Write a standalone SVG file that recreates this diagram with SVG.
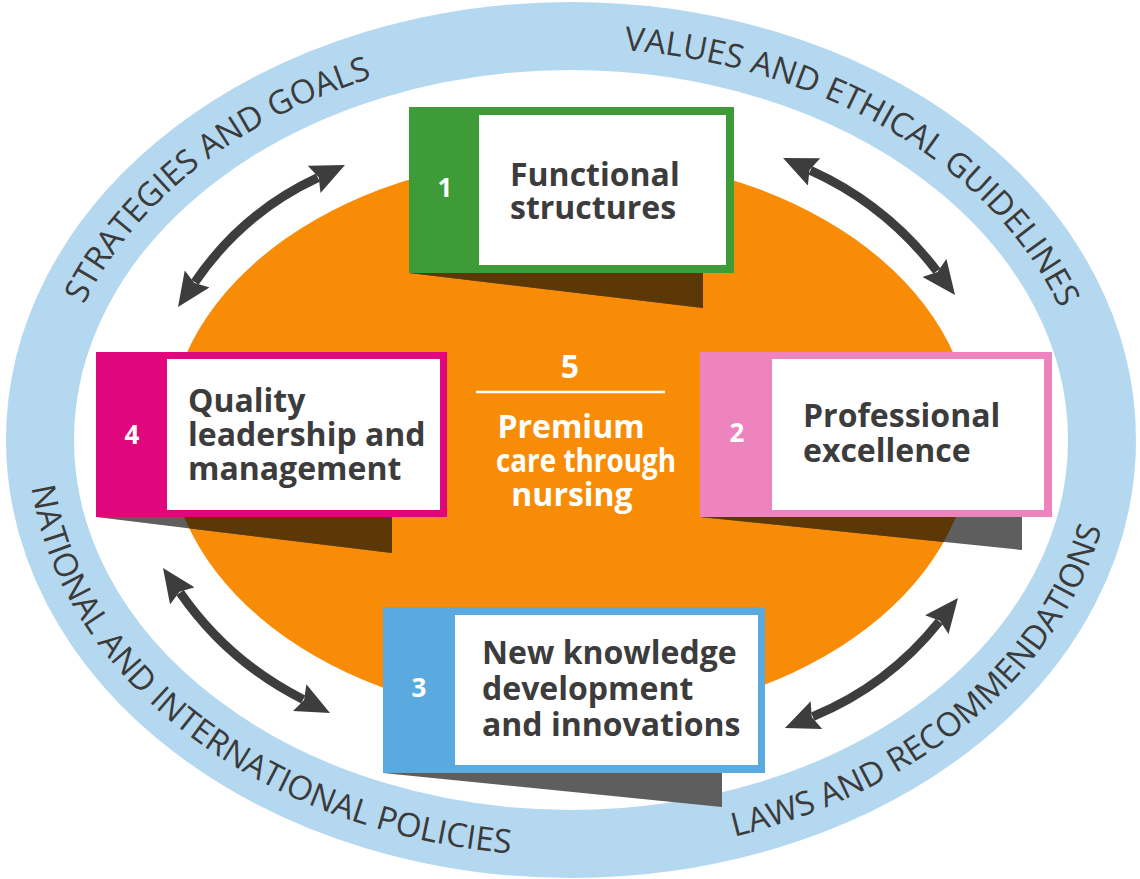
<svg xmlns="http://www.w3.org/2000/svg" width="1140" height="879" viewBox="0 0 1140 879">
<defs>
<style>
.ring{fill:none;stroke:#b4d8f0;stroke-width:68}
.orange{fill:#f98c06}
.ringtxt{font-family:"Open Sans","DejaVu Sans",sans-serif;font-size:33px;fill:#3b3b3b}
.arrow{fill:none;stroke:#3d3d3d;stroke-width:9;marker-start:url(#head);marker-end:url(#head)}
.sh{fill:#5e5e5e}
.shb{fill:#5c3806}
.inner{fill:#ffffff}
.num{font-family:"Open Sans","Liberation Sans",sans-serif;font-weight:700;font-size:26px;fill:#ffffff;text-anchor:middle}
.lbl{font-family:"Open Sans","DejaVu Sans",sans-serif;font-weight:700;font-size:32px;fill:#3c3c3c}
.ctr{font-family:"Open Sans","DejaVu Sans",sans-serif;font-weight:700;font-size:32px;fill:#ffffff;text-anchor:middle}
</style>
<marker id="head" markerUnits="userSpaceOnUse" markerWidth="34" markerHeight="30" viewBox="0 0 34 30" refX="4" refY="15" orient="auto-start-reverse">
<path d="M0,0 L34,15 L0,30 L5,15 z" fill="#3d3d3d"/>
</marker>
<clipPath id="oclip"><ellipse cx="570" cy="438" rx="402" ry="282"/></clipPath>
<path id="p1" d="M63.3,358.5 A519,392 0 0 1 427.9,63.2"/>
<path id="p2" d="M571,48 A519,392 0 0 1 1078.7,358.5"/>
<path id="p3" d="M28,440 A543,416 0 0 0 580.5,855.9"/>
<path id="p4" d="M618.3,854.4 A543,416 0 0 0 1114,440"/>
</defs>
<rect width="1140" height="879" fill="#ffffff"/>
<g id="frame">
<ellipse class="ring" cx="571" cy="440" rx="531" ry="404"/>
<text class="ringtxt"><textPath href="#p1" startOffset="50%" text-anchor="middle">STRATEGIES AND GOALS</textPath></text>
<text class="ringtxt"><textPath href="#p2" startOffset="50%" text-anchor="middle">VALUES AND ETHICAL GUIDELINES</textPath></text>
<text class="ringtxt"><textPath href="#p3" startOffset="48.5%" text-anchor="middle">NATIONAL AND INTERNATIONAL POLICIES</textPath></text>
<text class="ringtxt"><textPath href="#p4" startOffset="52%" text-anchor="middle">LAWS AND RECOMMENDATIONS</textPath></text>
</g>
<g id="core">
<ellipse class="orange" cx="570" cy="438" rx="402" ry="282"/>
<text class="ctr" x="570" y="378" font-size="27">5</text>
<line x1="476" y1="392" x2="665" y2="392" stroke="#ffffff" stroke-width="2.5"/>
<text class="ctr" x="571" y="438">Premium</text>
<text class="ctr" x="586" y="472" textLength="180" lengthAdjust="spacingAndGlyphs">care through</text>
<text class="ctr" x="572" y="506">nursing</text>
</g>
<g id="connectors">
<path class="arrow" d="M194.9,282.2 Q242,213 317.8,177.7"/>
<path class="arrow" d="M810.4,170.3 Q886.4,204.6 936.9,271.1"/>
<path class="arrow" d="M180.1,592.6 Q228.1,661.7 303.2,699.5"/>
<path class="arrow" d="M939.3,621.5 Q888.3,685.4 812.7,716.6"/>
</g>
<g id="box1">
<polygon class="sh" points="409,273 703,273 703,308"/>
<polygon class="shb" clip-path="url(#oclip)" points="409,273 703,273 703,308"/>
<rect x="409" y="107" width="325" height="166" fill="#3d9c37"/>
<rect class="inner" x="479" y="115" width="247" height="150"/>
<text class="num" x="445" y="197">1</text>
<text class="lbl" x="510" y="186">Functional</text>
<text class="lbl" x="510" y="219">structures</text>
</g>
<g id="box2">
<polygon class="sh" points="700,517 1022,517 1022,550"/>
<polygon class="shb" clip-path="url(#oclip)" points="700,517 1022,517 1022,550"/>
<rect x="700" y="352" width="352" height="165" fill="#ee84be"/>
<rect class="inner" x="772" y="359" width="272" height="151"/>
<text class="num" x="737" y="442">2</text>
<text class="lbl" x="803" y="427">Professional</text>
<text class="lbl" x="803" y="462">excellence</text>
</g>
<g id="box3">
<polygon class="sh" points="383,773 722,773 722,807"/>
<polygon class="shb" clip-path="url(#oclip)" points="383,773 722,773 722,807"/>
<rect x="383" y="607" width="382" height="166" fill="#5aa9df"/>
<rect class="inner" x="455" y="615" width="303" height="150"/>
<text class="num" x="419" y="697">3</text>
<text class="lbl" x="482" y="664">New knowledge</text>
<text class="lbl" x="482" y="700">development</text>
<text class="lbl" x="482" y="736">and innovations</text>
</g>
<g id="box4">
<polygon class="sh" points="96,517 392,517 392,553"/>
<polygon class="shb" clip-path="url(#oclip)" points="96,517 392,517 392,553"/>
<rect x="96" y="352" width="351" height="165" fill="#e0067c"/>
<rect class="inner" x="167" y="359" width="273" height="151"/>
<text class="num" x="132" y="444">4</text>
<text class="lbl" x="188" y="412">Quality</text>
<text class="lbl" x="188" y="446">leadership and</text>
<text class="lbl" x="188" y="480">management</text>
</g>
</svg>
